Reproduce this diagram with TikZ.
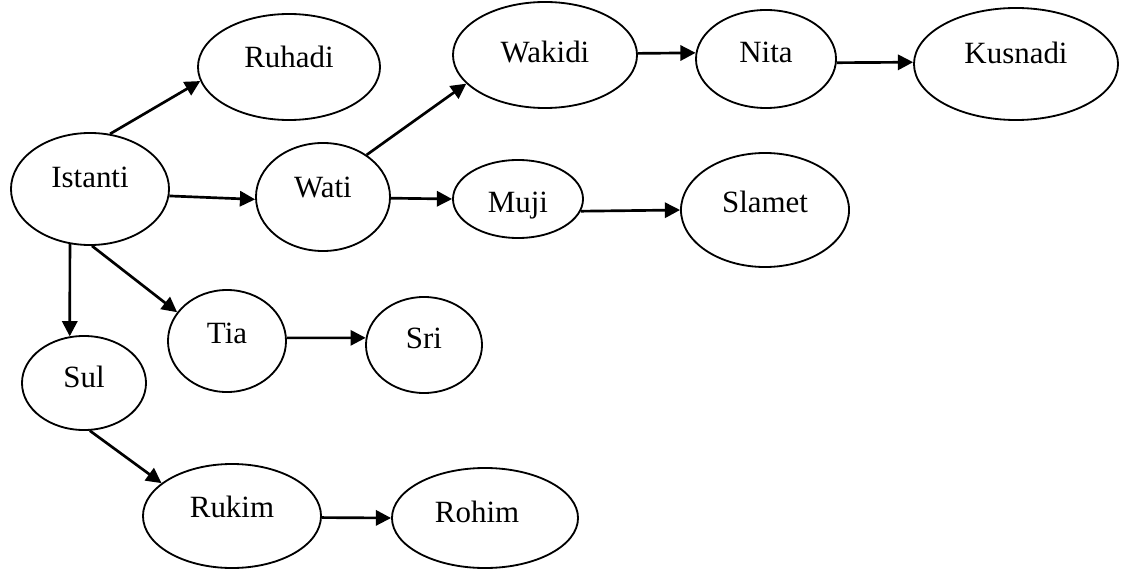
\documentclass[tikz,border=0pt]{standalone}
\usepackage{fontspec}
\setmainfont{Liberation Serif}
\usetikzlibrary{shapes.geometric,arrows.meta}

\begin{document}
\begin{tikzpicture}[x=0.025cm, y=-0.025cm,
	main node/.style={ellipse,draw,line width=1.3pt,inner sep=0pt,
		font=\fontsize{22}{26}\selectfont,text height=0.55cm},
	main edge/.style={line width=1.9pt,-{Triangle[length=0.38cm,width=0.38cm]}}]
	\useasboundingbox (0,0) rectangle (1122,570);

	\node[main node,minimum width=3.95cm,minimum height=2.8cm,text depth=0.63cm] (istanti) at (90,189) {Istanti};
	\node[main node,minimum width=4.55cm,minimum height=2.65cm,text depth=0.53cm] (ruhadi) at (289,67) {Ruhadi};
	\node[main node,minimum width=3.35cm,minimum height=2.7cm,text depth=0.53cm] (wati) at (323,197) {Wati};
	\node[main node,minimum width=4.6cm,minimum height=2.65cm,text depth=0.18cm] (wakidi) at (545,55) {Wakidi};
	\node[main node,minimum width=3.5cm,minimum height=2.45cm,text depth=0.38cm] (nita) at (766,59) {Nita};
	\node[main node,minimum width=5.1cm,minimum height=2.8cm,text depth=0.58cm] (kusnadi) at (1016,64) {Kusnadi};
	\node[main node,minimum width=3.25cm,minimum height=1.95cm,text height=0.8cm,text depth=0.13cm] (muji) at (518,199) {Muji};
	\node[main node,minimum width=4.2cm,minimum height=2.85cm,text depth=0.43cm] (slamet) at (765,210) {Slamet};
	\node[main node,minimum width=2.95cm,minimum height=2.55cm,text depth=0.43cm] (tia) at (227,341) {Tia};
	\node[main node,minimum width=2.9cm,minimum height=2.4cm,text depth=0.38cm] (sri) at (424,345) {Sri};
	\node[main node,minimum width=3.1cm,minimum height=2.35cm,text depth=0.33cm] (sul) at (84,383) {Sul};
	\node[main node,minimum width=4.45cm,minimum height=2.6cm,text depth=0.48cm] (rukim) at (232,516) {Rukim};
	\node[main node,minimum width=4.65cm,minimum height=2.5cm,text depth=0.33cm,text width=2.5cm] (rohim) at (485,518) {Rohim};

	\path[main edge]
	 (istanti.70) edge (ruhadi.189)
	 (istanti.355) edge (wati.182)
	 (istanti.250) edge (sul.107)
	 (istanti.272) edge (tia.150)
	 (wati.44) edge (wakidi.200)
	 (wati.359) edge (muji.180)
	 (wakidi.1) edge (nita.175)
	 (nita.357) edge (kusnadi.179)
	 (muji.349) edge (slamet.180)
	 (tia.3) edge (sri.173)
	 (sul.277) edge (rukim.155)
	 (rukim.359) edge (rohim.180);

\end{tikzpicture}
\end{document}
